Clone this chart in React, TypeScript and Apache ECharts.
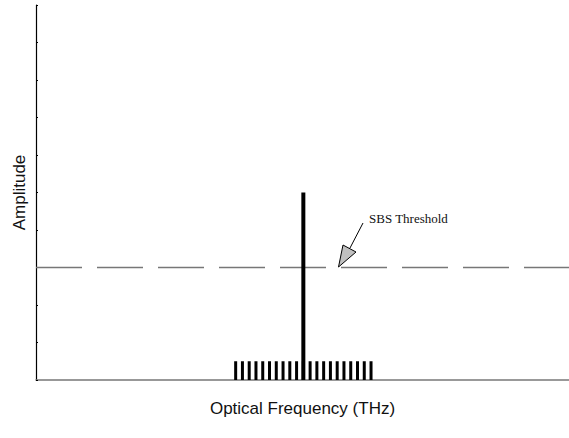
import React, { useEffect, useRef } from "react";
import * as echarts from "echarts";

// Channel frequency offsets (relative units) of the comb of small carriers
const channelOffsets = [-10, -9, -8, -7, -6, -5, -4, -3, -2, -1, 0, 1, 2, 3, 4, 5, 6, 7, 8, 9, 10];
const channelAmplitudes = [0.5, 0.5, 0.5, 0.5, 0.5, 0.5, 0.5, 0.5, 0.5, 0.5, 0.5, 0.5, 0.5, 0.5, 0.5, 0.5, 0.5, 0.5, 0.5, 0.5, 0.5];
// Strong carrier
const pumpOffsets = [0];
const pumpAmplitudes = [5];
// SBS threshold level
const thresholdLevel = 3;
const thresholdSpan = [-39.5, 39.25];

const xAxisName = "Optical Frequency (THz)";
const yAxisName = "Amplitude";
const annotationText = "SBS Threshold";

function barRenderer(width: number) {
  return (params: any, api: any) => {
    const top = api.coord([api.value(0), api.value(1)]);
    const base = api.coord([api.value(0), 0]);
    return {
      type: "rect",
      shape: { x: top[0] - width / 2, y: top[1], width, height: base[1] - top[1] },
      style: { fill: "#000" },
    };
  };
}

export default function App() {
  const ref = useRef<HTMLDivElement>(null);
  useEffect(() => {
    if (!ref.current) return;
    const chart = echarts.init(ref.current, undefined, { renderer: "svg" });
    chart.setOption({
      animation: false,
      backgroundColor: "#fff",
      grid: { left: 36, right: 0, top: 5, bottom: 58 },
      xAxis: {
        type: "value",
        min: thresholdSpan[0],
        max: thresholdSpan[1],
        name: xAxisName,
        nameLocation: "middle",
        nameGap: 20,
        nameTextStyle: { fontFamily: "Liberation Sans", fontSize: 17, color: "#111" },
        axisLine: { show: true, onZero: false, lineStyle: { color: "#777", width: 1.5 } },
        axisTick: { show: false },
        axisLabel: { show: false },
        splitLine: { show: false },
      },
      yAxis: {
        type: "value",
        min: 0,
        max: 10,
        interval: 1,
        name: yAxisName,
        nameLocation: "middle",
        nameGap: 8,
        nameTextStyle: { fontFamily: "Liberation Sans", fontSize: 17, color: "#111" },
        axisLine: { show: true, onZero: false, lineStyle: { color: "#000", width: 1.2 } },
        axisTick: { show: true, inside: true, length: 2, lineStyle: { color: "#000" } },
        axisLabel: { show: false },
        splitLine: { show: false },
      },
      series: [
        {
          type: "line",
          data: thresholdSpan.map((x) => [x, thresholdLevel]),
          symbol: "none",
          z: 1,
          lineStyle: { color: "#777", width: 1.5, type: [46, 15] },
        },
        {
          type: "custom",
          renderItem: barRenderer(3),
          data: channelOffsets.map((x, i) => [x, channelAmplitudes[i]]),
          z: 2,
        },
        {
          type: "custom",
          renderItem: barRenderer(4),
          data: pumpOffsets.map((x, i) => [x, pumpAmplitudes[i]]),
          z: 3,
        },
      ],
      graphic: [
        {
          type: "text",
          x: 369,
          y: 218,
          style: {
            text: annotationText,
            font: "13px 'Liberation Serif'",
            fill: "#111",
            verticalAlign: "middle",
          },
        },
        {
          type: "line",
          shape: { x1: 363, y1: 223, x2: 350, y2: 248 },
          style: { stroke: "#000", lineWidth: 1 },
        },
        {
          type: "polygon",
          shape: { points: [[343, 245], [356, 252], [338.5, 267]] },
          style: { fill: "#c0c0c0", stroke: "#000", lineWidth: 1 },
        },
      ],
    });
    return () => chart.dispose();
  }, []);
  return <div ref={ref} style={{ position: "fixed", left: 0, top: 0, width: 569, height: 438 }} />;
}
